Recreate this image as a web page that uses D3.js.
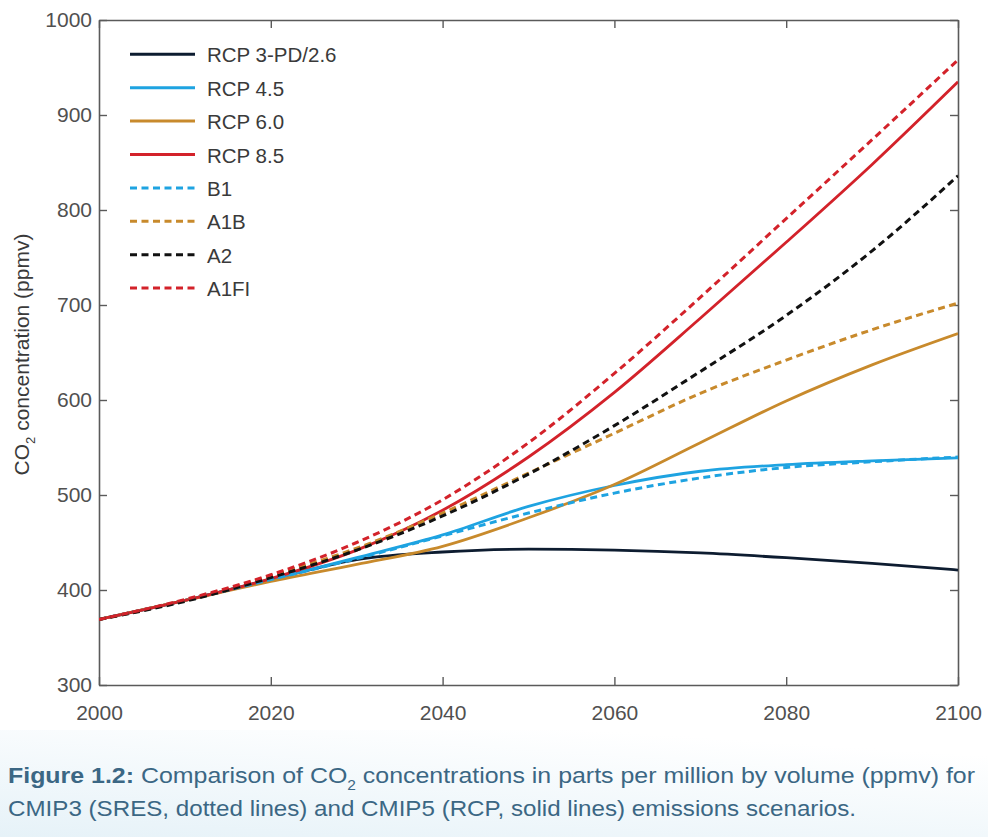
<!DOCTYPE html>
<html><head><meta charset="utf-8">
<script src="https://cdn.jsdelivr.net/npm/d3@7"></script>
<style>
html,body{margin:0;padding:0;background:#fff;}
svg{display:block;font-family:"Liberation Sans",Arial,Helvetica,sans-serif;}
</style></head>
<body><svg id="chart" width="988" height="837"></svg>
<script>
// ---- data ----
const years = [2000, 2010, 2020, 2030, 2040, 2050, 2060, 2070, 2080, 2090, 2100];
const rcp26 = [369, 389, 411, 432, 440, 443, 442, 439, 434, 428, 421];
const rcp45 = [369, 389, 411, 434, 458, 488, 510, 525, 532, 536, 539];
const rcp60 = [369, 389, 409, 427, 446, 476, 511, 555, 599, 637, 670];
const rcp85 = [369, 389, 412, 442, 484, 540, 608, 686, 766, 848, 935];
const b1    = [369, 389, 411, 433, 457, 481, 502, 518, 529, 535, 540];
const a1b   = [369, 389, 415, 444, 481, 523, 565, 607, 642, 674, 702];
const a2    = [369, 388, 413, 442, 478, 522, 573, 630, 689, 757, 836];
const a1fi  = [369, 390, 416, 450, 495, 555, 628, 708, 791, 874, 958];
const seriesNames = ["RCP 3-PD/2.6", "RCP 4.5", "RCP 6.0", "RCP 8.5", "B1", "A1B", "A2", "A1FI"];
const seriesValues = [rcp26, rcp45, rcp60, rcp85, b1, a1b, a2, a1fi];
const seriesColors = ["#0d1c30", "#1ea3e1", "#c88a2c", "#d3222a", "#1ea3e1", "#c88a2c", "#111111", "#d3222a"];
const seriesDashed = [false, false, false, false, true, true, true, true];
const xTicks = [2000, 2020, 2040, 2060, 2080, 2100];
const yTicks = [300, 400, 500, 600, 700, 800, 900, 1000];

// ---- layout ----
const svg = d3.select("#chart");
const L = 99, R = 958, T = 20, B = 685;
const x = d3.scaleLinear().domain([2000, 2100]).range([L, R]);
const y = d3.scaleLinear().domain([300, 1000]).range([B, T]);

// caption background
const defs = svg.append("defs");
const grad = defs.append("linearGradient").attr("id", "capbg")
  .attr("x1", "0").attr("y1", "1").attr("x2", "0.6").attr("y2", "0");
grad.append("stop").attr("offset", "0").attr("stop-color", "#e6f2f8");
grad.append("stop").attr("offset", "1").attr("stop-color", "#ffffff");
svg.append("rect").attr("x", 0).attr("y", 730).attr("width", 988).attr("height", 107).attr("fill", "url(#capbg)");

const axisColor = "#5a5a5a";
const labelColor = "#505050";
function styleAxis(g) {
  g.attr("font-size", 21).attr("font-family", "\"Liberation Sans\",Arial,sans-serif");
  g.selectAll(".domain").attr("stroke", axisColor).attr("stroke-width", 1.6);
  g.selectAll(".tick line").attr("stroke", axisColor).attr("stroke-width", 1.4);
  g.selectAll(".tick text").attr("fill", labelColor);
}
svg.append("g").attr("transform", `translate(0,${B})`)
  .call(d3.axisBottom(x).tickValues(xTicks).tickFormat(d3.format("d")).tickSizeInner(-8).tickSizeOuter(0).tickPadding(20))
  .call(styleAxis);
svg.append("g").attr("transform", `translate(0,${T})`)
  .call(d3.axisTop(x).tickValues(xTicks).tickFormat("").tickSizeInner(-8).tickSizeOuter(0))
  .call(styleAxis);
svg.append("g").attr("transform", `translate(${L},0)`)
  .call(d3.axisLeft(y).tickValues(yTicks).tickFormat(d3.format("d")).tickSizeInner(-8).tickSizeOuter(0).tickPadding(7))
  .call(styleAxis);
svg.append("g").attr("transform", `translate(${R},0)`)
  .call(d3.axisRight(y).tickValues(yTicks).tickFormat("").tickSizeInner(-8).tickSizeOuter(0))
  .call(styleAxis);

// y label
const yl = svg.append("text").attr("transform", `translate(29,${(T + B) / 2 + 2}) rotate(-90)`)
  .attr("text-anchor", "middle").attr("fill", "#3a3a3a").attr("font-size", 21);
yl.append("tspan").text("CO");
yl.append("tspan").text("2").attr("font-size", 13).attr("dy", 6);
yl.append("tspan").text(" concentration (ppmv)").attr("dy", -6);

// lines
const clip = defs.append("clipPath").attr("id", "plotclip");
clip.append("rect").attr("x", L).attr("y", T).attr("width", R - L).attr("height", B - T);
const line = d3.line().x((d, i) => x(years[i])).y(d => y(d)).curve(d3.curveMonotoneX);
const lg = svg.append("g").attr("clip-path", "url(#plotclip)");
seriesValues.forEach((vals, i) => {
  lg.append("path").datum(vals).attr("d", line)
    .attr("fill", "none").attr("stroke", seriesColors[i])
    .attr("stroke-width", seriesDashed[i] ? 3 : 2.8)
    .attr("stroke-dasharray", seriesDashed[i] ? "7,4.5" : null)
    .attr("stroke-linecap", "butt");
});

// legend
const leg = svg.append("g");
seriesNames.forEach((name, i) => {
  const yy = 54.3 + i * 33.4;
  leg.append("line").attr("x1", 130).attr("x2", 195).attr("y1", yy).attr("y2", yy)
    .attr("stroke", seriesColors[i]).attr("stroke-width", 3)
    .attr("stroke-dasharray", seriesDashed[i] ? "7,4.5" : null);
  leg.append("text").attr("x", 207).attr("y", yy + 8).attr("fill", "#3a3a3a")
    .attr("font-size", 20.5).text(name);
});

// caption
const capColor = "#3b6784";
function capLine(yy, parts, target) {
  const t = svg.append("text").attr("x", 8).attr("y", yy).attr("fill", capColor)
    .attr("font-size", 22.5).attr("font-family", "\"Liberation Sans\",Arial,sans-serif");
  parts.forEach(p => {
    const s = t.append("tspan").text(p.t);
    if (p.b) s.attr("font-weight", "bold");
    if (p.sub) s.attr("font-size", 14).attr("dy", 7);
    if (p.up) s.attr("dy", -7);
  });
  t.attr("textLength", target).attr("lengthAdjust", "spacingAndGlyphs");
}
capLine(783, [{t: "Figure 1.2:", b: true}, {t: " Comparison of CO"}, {t: "2", sub: true}, {t: " concentrations in parts per million by volume (ppmv) for", up: true}], 967);
capLine(816, [{t: "CMIP3 (SRES, dotted lines) and CMIP5 (RCP, solid lines) emissions scenarios."}], 848);
</script></body></html>
